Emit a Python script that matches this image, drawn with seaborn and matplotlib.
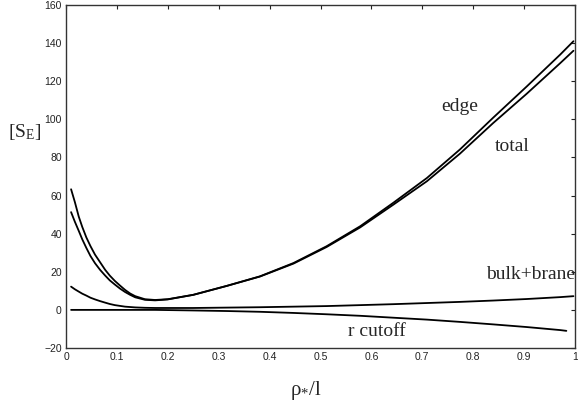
import numpy as np
import pandas as pd
import seaborn as sns
import matplotlib.pyplot as plt

# values
rho = [0.01, 0.0175, 0.025, 0.032, 0.04, 0.048, 0.057, 0.067, 0.077, 0.086,
       0.096, 0.106, 0.116, 0.126, 0.136, 0.155, 0.175,
       0.20, 0.25, 0.316, 0.381, 0.447, 0.512, 0.578, 0.643, 0.709, 0.774,
       0.839, 0.905, 0.971, 0.997]
total = [63.3, 56.5, 49.0, 43.5, 38.0, 33.5, 29.0, 25.0, 21.0, 18.0,
         15.2, 12.8, 10.5, 8.6, 7.2, 5.6, 5.2,
         5.6, 7.9, 12.6, 17.5, 24.3, 33.0, 43.3, 55.2, 67.5, 82.0,
         98.0, 113.4, 129.5, 136.0]
edge = [51.3, 46.2, 41.5, 37.0, 32.5, 28.3, 24.5, 21.0, 18.0, 15.5,
        13.3, 11.2, 9.4, 7.9, 6.6, 5.3, 5.0,
        5.5, 7.9, 12.6, 17.6, 24.6, 33.4, 43.9, 56.2, 69.2, 84.2,
        100.8, 117.2, 134.0, 141.0]
bulk_brane = [12.2, 10.8, 9.6, 8.5, 7.5, 6.4, 5.5, 4.6, 3.8, 3.1,
              2.5, 2.1, 1.7, 1.5, 1.3, 1.1, 1.0,
              1.0, 1.0, 1.2, 1.4, 1.7, 2.0, 2.5, 3.0, 3.6, 4.2,
              4.9, 5.7, 6.7, 7.2]
rho_cut = [0.01, 0.10, 0.175, 0.20, 0.25, 0.316, 0.381, 0.447, 0.512, 0.578,
           0.643, 0.709, 0.774, 0.839, 0.905, 0.971, 0.983]
r_cutoff = [0, 0, 0, -0.1, -0.3, -0.6, -1.0, -1.6, -2.3, -3.1,
            -4.1, -5.1, -6.3, -7.6, -9.0, -10.6, -11.0]

df = pd.DataFrame({'rho': rho, 'total': total, 'edge': edge, 'bulk+brane': bulk_brane})
long = df.melt(id_vars='rho', var_name='part', value_name='S')
cut = pd.DataFrame({'rho': rho_cut, 'S': r_cutoff, 'part': 'r cutoff'})
long = pd.concat([long, cut], ignore_index=True)

sns.set_style('white')
plt.rcParams['font.family'] = ['Liberation Sans', 'DejaVu Sans']
plt.rcParams['mathtext.fontset'] = 'custom'
plt.rcParams['mathtext.rm'] = 'Liberation Serif'
plt.rcParams['mathtext.it'] = 'Liberation Serif'

fig = plt.figure(figsize=(5.78, 4.08), dpi=100)
ax = fig.add_axes([66 / 578, 1 - 348 / 408, 509 / 578, 343 / 408])

sns.lineplot(data=long, x='rho', y='S', units='part', estimator=None, sort=True,
             color='black', linewidth=1.3, ax=ax, legend=False)

ax.set_xlim(0, 1)
ax.set_ylim(-20, 160)
ax.set_xticks(np.arange(0, 1.01, 0.1))
ax.set_xticklabels(['0', '0.1', '0.2', '0.3', '0.4', '0.5', '0.6', '0.7', '0.8', '0.9', '1'])
ax.set_yticks(range(-20, 161, 20))
ax.tick_params(direction='in', top=True, right=True, length=3, width=0.8,
               labelsize=7.5, colors='#222222', pad=3)
for s in ax.spines.values():
    s.set_color('#333333')
    s.set_linewidth(1.0)
ax.set_xlabel('')
ax.set_ylabel('')

serif = ['Liberation Serif', 'DejaVu Serif']
ax.text(0.773, 106.7, 'edge', fontsize=14, family=serif, ha='center', va='center')
ax.text(0.876, 85.7, 'total', fontsize=14, family=serif, ha='center', va='center')
ax.text(0.912, 18.4, 'bulk+brane', fontsize=14, family=serif, ha='center', va='center')
ax.text(0.61, -11.4, 'r cutoff', fontsize=14, family=serif, ha='center', va='center')

fig.text(25 / 578, 1 - 132 / 408, r'$[\mathrm{S}_{\mathrm{E}}]$', fontsize=14,
         family=serif, ha='center', va='center')
fig.text(306 / 578, 1 - 390 / 408, 'ρ' + r'$_{*}$' + '/l', fontsize=15,
         family=serif, ha='center', va='center')

fig.savefig('out.png', dpi=100)
